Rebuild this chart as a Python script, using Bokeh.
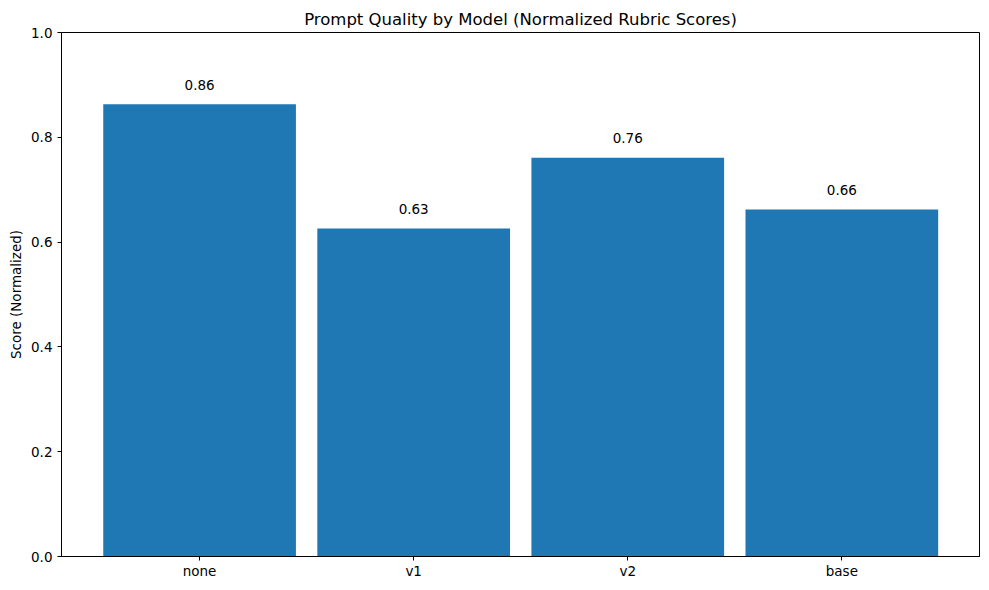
from bokeh.plotting import figure
from bokeh.models import ColumnDataSource, FixedTicker, PrintfTickFormatter
from bokeh.core.properties import value
from bokeh.embed import file_html
from bokeh.resources import INLINE

# data
models = ["none", "v1", "v2", "base"]
scores = [0.863, 0.626, 0.761, 0.662]
y_ticks = [0.0, 0.2, 0.4, 0.6, 0.8, 1.0]

FONT = "DejaVu Sans"

xs = list(range(len(models)))
source = ColumnDataSource(data=dict(
    x=xs,
    score=scores,
    label_y=[s + 0.02 for s in scores],
    label=["%.2f" % s for s in scores],
))

p = figure(width=989, height=590, x_range=(-0.645, 3.643), y_range=(0, 1),
           title="Prompt Quality by Model (Normalized Rubric Scores)",
           output_backend="svg", toolbar_location=None)

p.vbar(x="x", top="score", bottom=0, width=0.9, source=source,
       fill_color="#1f77b4", line_color=None)
p.text(x="x", y="label_y", text="label", source=source,
       text_align="center", text_baseline="bottom", y_offset=-4,
       text_font=value(FONT), text_font_size="13.5px", text_color="black")

# matplotlib-like styling
p.min_border_left = 61
p.min_border_right = 10
p.min_border_top = 32
p.min_border_bottom = 34
p.outline_line_color = "black"
p.outline_line_alpha = 1
p.outline_line_width = 1
p.xgrid.visible = False
p.ygrid.visible = False

p.title.align = "center"
p.title.text_font = FONT
p.title.text_font_style = "normal"
p.title.text_font_size = "16.5px"
p.title.text_color = "black"
p.title.standoff = 8

p.xaxis.ticker = FixedTicker(ticks=xs)
p.xaxis.major_label_overrides = {i: m for i, m in enumerate(models)}
p.yaxis.ticker = FixedTicker(ticks=y_ticks)
p.yaxis.formatter = PrintfTickFormatter(format="%.1f")
p.yaxis.axis_label = "Score (Normalized)"

for ax in (p.xaxis, p.yaxis):
    ax.axis_line_color = "black"
    ax.major_tick_line_color = "black"
    ax.minor_tick_line_color = None
    ax.major_tick_in = 0
    ax.major_tick_out = 4
    ax.major_label_standoff = 5
    ax.major_label_text_font = FONT
    ax.major_label_text_font_size = "13.5px"
    ax.major_label_text_color = "black"
    ax.axis_label_text_font = FONT
    ax.axis_label_text_font_size = "13.5px"
    ax.axis_label_text_font_style = "normal"
    ax.axis_label_text_color = "black"
    ax.axis_label_standoff = 4

p.xaxis.major_label_standoff = 2
p.yaxis.major_label_orientation = "horizontal"

open("out.html", "w").write(file_html(p, INLINE))
